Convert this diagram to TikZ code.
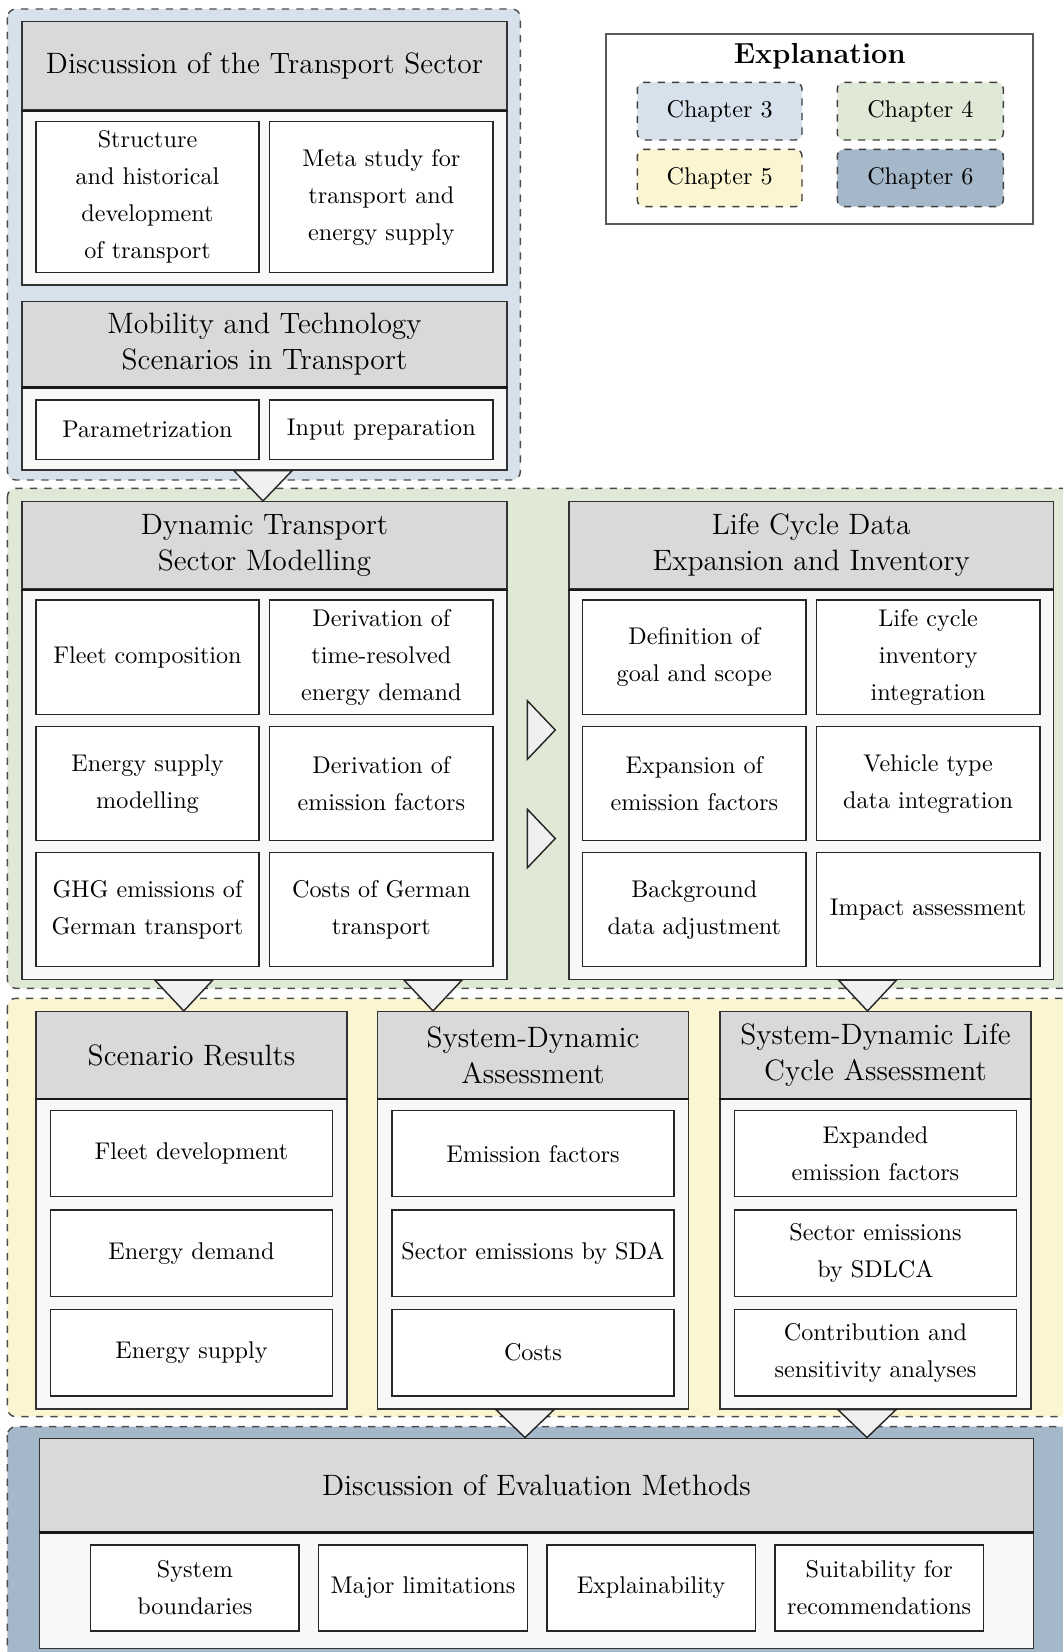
\documentclass[tikz,border=0pt]{standalone}
\usetikzlibrary{fit,calc}
\definecolor{chthree}{HTML}{D7E1EC}
\definecolor{chfour}{HTML}{E0E9D6}
\definecolor{chfive}{HTML}{FBF6D1}
\definecolor{chsix}{HTML}{A5B8CA}
\definecolor{hdrgray}{HTML}{D9D9D9}
\definecolor{bodygray}{HTML}{F8F8F8}
\definecolor{trigray}{HTML}{F0F0F0}

% downward flow triangle: x position, source node, target node
\newcommand\tridown[3]{%
  \draw[tri] ($(#1,0 |- #2.south)+(-29,0)$) -- ($(#1,0 |- #2.south)+(29,0)$)
    -- (#1,0 |- #3.north) -- cycle;}
% rightward flow triangle: y position, source node, target node
\newcommand\triright[3]{%
  \draw[tri] ($(#2.east |- 0,#1)+(19.7,-29.2)$) -- ($(#2.east |- 0,#1)+(19.7,29.2)$)
    -- ($(#3.west |- 0,#1)+(-13,0)$) -- cycle;}

\begin{document}
\begin{tikzpicture}[x=0.414pt,y=-0.414pt,
  chapterbg/.style={draw=black!70, dashed, line width=0.6pt, rounded corners=3.5pt},
  outerbox/.style={draw=black!80, fill=bodygray, line width=0.6pt, inner sep=0pt},
  headtext/.style={align=center, inner sep=0pt, font=\fontsize{12.2}{14.8}\selectfont},
  subtext/.style={align=center, inner sep=0pt, font=\fontsize{10}{15.3}\selectfont},
  headbox/.style={draw=black!80, fill=hdrgray, line width=0.6pt, inner sep=0pt,
    label={[headtext]center:{#1}}},
  subbox/.style={draw=black!85, fill=white, line width=0.6pt, inner sep=0pt,
    label={[subtext]center:{#1}}},
  sepline/.style={draw=black!90, line width=1pt},
  tri/.style={draw=black!85, fill=trigray, line width=0.6pt, line join=miter},
  swatch/.style={draw=black!75, dashed, line width=0.6pt, rounded corners=2.8pt,
    inner sep=0pt, label={[subtext]center:{#1}}},
]
\useasboundingbox (0,0) rectangle (1063,1652);

% chapter backgrounds
\begin{scope}
  \clip (0,0) rectangle (1063,1652);
  \path[chapterbg, fill=chthree] (7.4,9) rectangle (520.4,480);
  \path[chapterbg, fill=chfour] (7.4,488.3) rectangle (1090,988.3);
  \path[chapterbg, fill=chfive] (7.4,998.3) rectangle (1090,1416.7);
  \path[chapterbg, fill=chsix] (7.4,1426.7) rectangle (1090,1690);
\end{scope}

% legend
\node[draw=black!65, line width=0.7pt, fill=white, inner sep=0pt,
  fit={(606,34) (1033.3,224.3)}] (legend) {};
\node[font=\fontsize{12}{14}\selectfont\bfseries] (legendtitle) at (819.7,56) {Explanation};
\node[swatch=Chapter 3, fill=chthree, fit={(637.3,82.3) (802,140)}] (chapthree) {};
\node[swatch=Chapter 4, fill=chfour, fit={(837.3,82.3) (1003.3,140)}] (chapfour) {};
\node[swatch=Chapter 5, fill=chfive, fit={(637.3,149.3) (802,206.7)}] (chapfive) {};
\node[swatch=Chapter 6, fill=chsix, fit={(837.3,149.3) (1003.3,206.7)}] (chapsix) {};

% Discussion of the transport sector
\node[outerbox, fit={(22,21.7) (507,285)}] (transport) {};
\node[headbox={Discussion of the Transport Sector}, fit={(22,21.7) (507,110)}] (transporthead) {};
\draw[sepline] (transporthead.south west) -- (transporthead.south east);
\node[subbox={Structure\\and historical\\development\\of transport}, fit={(35.8,121.7) (259.2,272.7)}] (structure) {};
\node[subbox={Meta study for\\transport and\\energy supply}, fit={(269.7,121.7) (493,272.7)}] (metastudy) {};

% Mobility and technology scenarios
\node[outerbox, fit={(22,301.7) (507,470)}] (mobility) {};
\node[headbox={Mobility and Technology\\Scenarios in Transport}, fit={(22,301.7) (507,386.7)}] (mobilityhead) {};
\draw[sepline] (mobilityhead.south west) -- (mobilityhead.south east);
\node[subbox={Parametrization}, fit={(35.8,400) (259.2,459.3)}] (param) {};
\node[subbox={Input preparation}, fit={(269.7,400) (493,459.3)}] (inputprep) {};

% Dynamic transport sector modelling
\node[outerbox, fit={(22,501.7) (507,979.3)}] (dtsm) {};
\node[headbox={Dynamic Transport\\Sector Modelling}, fit={(22,501.7) (507,589)}] (dtsmhead) {};
\draw[sepline] (dtsmhead.south west) -- (dtsmhead.south east);
\node[subbox={Fleet composition}, fit={(35.8,600) (259.2,714.3)}] (fleet) {};
\node[subbox={Derivation of\\time-resolved\\energy demand}, fit={(269.7,600) (493,714.3)}] (energydemand) {};
\node[subbox={Energy supply\\modelling}, fit={(35.8,726.7) (259.2,840.7)}] (supplymod) {};
\node[subbox={Derivation of\\emission factors}, fit={(269.7,726.7) (493,840.7)}] (emfactors) {};
\node[subbox={GHG emissions of\\German transport}, fit={(35.8,852.7) (259.2,966.7)}] (ghg) {};
\node[subbox={Costs of German\\transport}, fit={(269.7,852.7) (493,966.7)}] (costsde) {};

% Life cycle data expansion and inventory
\node[outerbox, fit={(569,501.7) (1053.5,979.3)}] (lcdata) {};
\node[headbox={Life Cycle Data\\Expansion and Inventory}, fit={(569,501.7) (1053.5,589)}] (lcdatahead) {};
\draw[sepline] (lcdatahead.south west) -- (lcdatahead.south east);
\node[subbox={Definition of\\goal and scope}, fit={(582.6,600) (806,714.3)}] (goalscope) {};
\node[subbox={Life cycle\\inventory\\integration}, fit={(816.5,600) (1039.8,714.3)}] (lciint) {};
\node[subbox={Expansion of\\emission factors}, fit={(582.6,726.7) (806,840.7)}] (expemf) {};
\node[subbox={Vehicle type\\data integration}, fit={(816.5,726.7) (1039.8,840.7)}] (vehtype) {};
\node[subbox={Background\\data adjustment}, fit={(582.6,852.7) (806,966.7)}] (background) {};
\node[subbox={Impact assessment}, fit={(816.5,852.7) (1039.8,966.7)}] (impact) {};

% Scenario results
\node[outerbox, fit={(36,1011.7) (347,1409)}] (scenario) {};
\node[headbox={Scenario Results}, fit={(36,1011.7) (347,1098.3)}] (scenariohead) {};
\draw[sepline] (scenariohead.south west) -- (scenariohead.south east);
\node[subbox={Fleet development}, fit={(50.6,1110.7) (332.4,1196.7)}] (fleetdev) {};
\node[subbox={Energy demand}, fit={(50.6,1210) (332.4,1296.7)}] (endemand) {};
\node[subbox={Energy supply}, fit={(50.6,1309.3) (332.4,1396)}] (ensupply) {};

% System-dynamic assessment
\node[outerbox, fit={(377.5,1011.7) (688.5,1409)}] (sda) {};
\node[headbox={System-Dynamic\\Assessment}, fit={(377.5,1011.7) (688.5,1098.3)}] (sdahead) {};
\draw[sepline] (sdahead.south west) -- (sdahead.south east);
\node[subbox={Emission factors}, fit={(392,1110.7) (674,1196.7)}] (sdaemf) {};
\node[subbox={Sector emissions by SDA}, fit={(392,1210) (674,1296.7)}] (sdasector) {};
\node[subbox={Costs}, fit={(392,1309.3) (674,1396)}] (sdacosts) {};

% System-dynamic life cycle assessment
\node[outerbox, fit={(720,1011.7) (1031,1409)}] (sdlca) {};
\node[headbox={System-Dynamic Life\\Cycle Assessment}, fit={(720,1011.7) (1031,1098.3)}] (sdlcahead) {};
\draw[sepline] (sdlcahead.south west) -- (sdlcahead.south east);
\node[subbox={Expanded\\emission factors}, fit={(734.5,1110.7) (1016.5,1196.7)}] (expanded) {};
\node[subbox={Sector emissions\\by SDLCA}, fit={(734.5,1210) (1016.5,1296.7)}] (sdlcasector) {};
\node[subbox={Contribution and\\sensitivity analyses}, fit={(734.5,1309.3) (1016.5,1396)}] (contrib) {};

% Discussion of evaluation methods
\node[outerbox, fit={(39.3,1438.3) (1033.5,1648.7)}] (evalmeth) {};
\node[headbox={Discussion of Evaluation Methods}, fit={(39.3,1438.3) (1033.5,1531.7)}] (evalhead) {};
\draw[sepline] (evalhead.south west) -- (evalhead.south east);
\node[subbox={System\\boundaries}, fit={(90.6,1545) (299.2,1631)}] (sysbound) {};
\node[subbox={Major limitations}, fit={(318.7,1545) (527.3,1631)}] (limits) {};
\node[subbox={Explainability}, fit={(546.8,1545) (755.4,1631)}] (explain) {};
\node[subbox={Suitability for\\recommendations}, fit={(774.9,1545) (983.5,1631)}] (suitab) {};

% flow triangles
\tridown{263}{mobility}{dtsm}
\tridown{183.8}{dtsm}{scenario}
\tridown{433}{dtsm}{sda}
\tridown{867.5}{lcdata}{sdlca}
\tridown{525}{sda}{evalmeth}
\tridown{867}{sdlca}{evalmeth}
\triright{730}{dtsm}{lcdata}
\triright{838.5}{dtsm}{lcdata}
\end{tikzpicture}
\end{document}
